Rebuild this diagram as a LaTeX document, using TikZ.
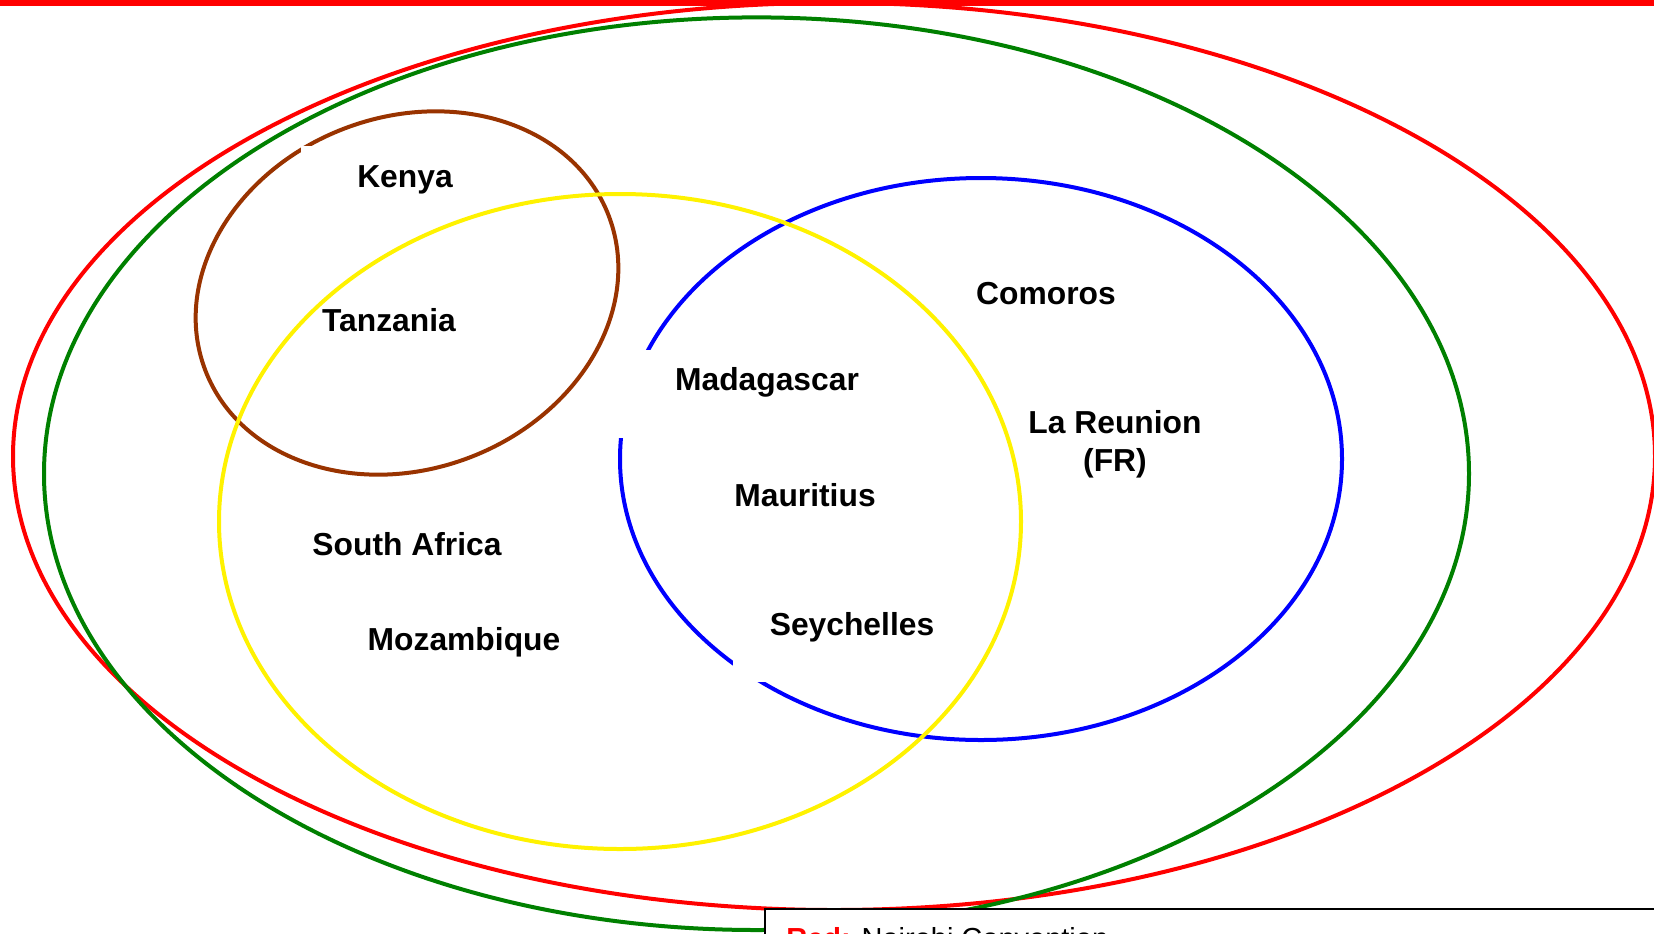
\documentclass[tikz,border=0pt]{standalone}
\usepackage{fontspec}
\setmainfont{Liberation Sans}
\definecolor{brownc}{RGB}{153,51,0}
\definecolor{greenc}{RGB}{0,128,0}
\begin{document}
\begin{tikzpicture}[x=0.5pt,y=-0.5pt,
  ring/.style={line width=2pt},
  lbl/.style={font=\fontsize{15.9}{19}\selectfont\bfseries, align=center, inner sep=0pt},
  gapbox/.style={fill=white, draw=none}]
\useasboundingbox (0,0) rectangle (1654,933);
\clip (0,0) rectangle (1654,933);
% ellipses
\draw[ring, red] (834,456.4) ellipse [x radius=821, y radius=453.6];
\draw[ring, greenc] (756.5,473.7) ellipse [x radius=712.5, y radius=456.3];
% top red line
\draw[red, line width=3pt] (0,3) -- (1654,3);
\draw[ring, brownc, rotate around={21:(407,293)}] (407,293) ellipse [x radius=216, y radius=176];
\draw[ring, blue] (981,459) ellipse [x radius=361, y radius=281];
% white text-box backgrounds that cut the rings
\fill[gapbox] (301,146) rectangle (470,210);
\fill[gapbox] (610,350) rectangle (880,438);
\fill[gapbox] (733,598) rectangle (950,682);
\draw[ring, yellow] (620,521.5) ellipse [x radius=401, y radius=327.5];
% labels
\node[lbl] (kenya) at (405,180) {Kenya};
\node[lbl] (tanzania) at (389,320) {Tanzania};
\node[lbl] (madagascar) at (767,382) {Madagascar};
\node[lbl] (comoros) at (1046,294) {Comoros};
\node[lbl] (reunion) at (1115,444) {La Reunion\\(FR)};
\node[lbl] (mauritius) at (805,495) {Mauritius};
\node[lbl] (southafrica) at (407,544) {South Africa};
\node[lbl] (mozambique) at (464,642) {Mozambique};
\node[lbl] (seychelles) at (852,627) {Seychelles};
% legend
\draw[black, line width=0.75pt, fill=white] (765,909) rectangle (1700,1100);
\node[anchor=base west, inner sep=0pt, font=\fontsize{14.5}{17}\selectfont] (legend) at (786,948) {\textcolor{red}{\bfseries Red:} Nairobi Convention};
\end{tikzpicture}
\end{document}
